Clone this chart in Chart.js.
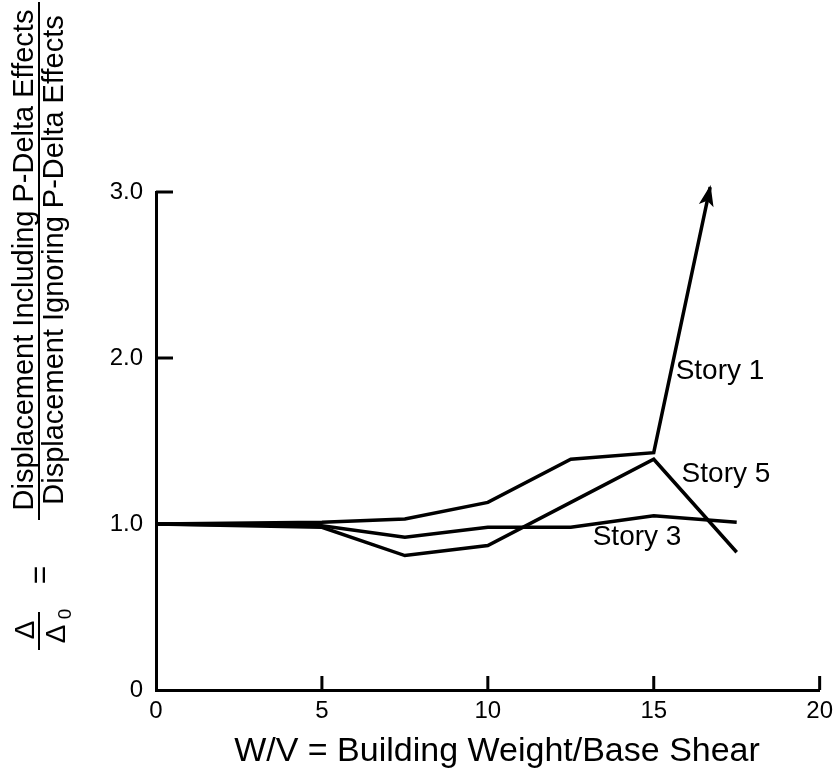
<!DOCTYPE html>
<html>
<head>
<meta charset="utf-8">
<script src="https://cdn.jsdelivr.net/npm/chart.js@4/dist/chart.umd.min.js"></script>
<style>
  html, body { margin: 0; padding: 0; background: #fff; }
  #wrap { width: 840px; height: 783px; }
</style>
</head>
<body>
<div id="wrap"><canvas id="chart" width="840" height="783"></canvas></div>
<script>
( function () {
    'use strict';

    // W/V values and displacement ratios
    var story1X = [ 0, 5, 7.5, 10, 12.5, 15, 16.7 ];
    var story1Y = [ 1.0, 1.01, 1.03, 1.13, 1.39, 1.43, 3.03 ];
    var story3X = [ 0, 5, 7.5, 10, 12.5, 15, 17.5 ];
    var story3Y = [ 1.0, 0.99, 0.92, 0.98, 0.98, 1.05, 1.01 ];
    var story5X = [ 0, 5, 7.5, 10, 12.5, 15, 17.5 ];
    var story5Y = [ 1.0, 0.98, 0.81, 0.87, 1.13, 1.39, 0.83 ];

    var xTicks = [ 0, 5, 10, 15, 20 ];
    var yTicks = [ 0, 1, 2, 3 ];

    var seriesNames = [ 'Story 1', 'Story 3', 'Story 5' ];
    var labelX = [ 15.66, 13.16, 15.84 ];
    var labelY = [ 1.92, 0.92, 1.30 ];

    function pts( xs, ys ) {
        return xs.map( function ( x, i ) { return { x: x, y: ys[ i ] }; } );
    }

    var lineStyle = {
        borderColor:  '#000',
        borderWidth:  3.5,
        pointRadius:  0,
        tension:      0,
        fill:         false,
        clip:         false,
    };

    var titleFont = '"Liberation Sans", Arial, sans-serif';
    var tickFont  = { family: '"Liberation Sans", Arial, sans-serif', size: 24 };

    /* ── inward tick marks, arrow head, labels, y title ─────────────────── */
    var extras = {
        id: 'extras',
        afterDatasetsDraw: function ( chart ) {
            var ctx = chart.ctx;
            var xs = chart.scales.x, ys = chart.scales.y;
            var area = chart.chartArea;

            ctx.save();
            ctx.strokeStyle = '#000';
            ctx.lineWidth = 3;
            yTicks.forEach( function ( v ) {
                if ( v === 0 ) return;
                var py = ys.getPixelForValue( v );
                ctx.beginPath();
                ctx.moveTo( area.left, py );
                ctx.lineTo( area.left + 17, py );
                ctx.stroke();
            } );
            xTicks.forEach( function ( v ) {
                if ( v === 0 ) return;
                var px = xs.getPixelForValue( v );
                ctx.beginPath();
                ctx.moveTo( px, area.bottom );
                ctx.lineTo( px, area.bottom - 14 );
                ctx.stroke();
            } );

            // arrow at the end of Story 1
            var pts1 = chart.getDatasetMeta( 0 ).data;
            var a = pts1[ pts1.length - 2 ], b = pts1[ pts1.length - 1 ];
            var ang = Math.atan2( b.y - a.y, b.x - a.x );
            ctx.translate( b.x, b.y );
            ctx.rotate( ang );
            ctx.fillStyle = '#000';
            ctx.beginPath();
            ctx.moveTo( 2, 0 );
            ctx.lineTo( -19, -7.5 );
            ctx.lineTo( -14, 0 );
            ctx.lineTo( -19, 7.5 );
            ctx.closePath();
            ctx.fill();
            ctx.restore();

            // series labels
            ctx.save();
            ctx.fillStyle = '#000';
            ctx.font = '28px ' + titleFont;
            ctx.textAlign = 'left';
            ctx.textBaseline = 'middle';
            seriesNames.forEach( function ( name, i ) {
                ctx.fillText( name, xs.getPixelForValue( labelX[ i ] ), ys.getPixelForValue( labelY[ i ] ) );
            } );
            ctx.restore();

            // x title, a little right of the plot centre as in the figure
            ctx.save();
            ctx.fillStyle = '#000';
            ctx.font = '34px ' + titleFont;
            ctx.textAlign = 'center';
            ctx.textBaseline = 'middle';
            ctx.fillText( 'W/V = Building Weight/Base Shear', 497, 752 );
            ctx.restore();

            // y title: delta / delta0 = fraction
            ctx.save();
            ctx.fillStyle = '#000';
            ctx.strokeStyle = '#000';
            ctx.rotate( -Math.PI / 2 );
            ctx.font = '29px ' + titleFont;
            ctx.textAlign = 'center';
            ctx.textBaseline = 'alphabetic';
            var cy = -260;
            ctx.fillText( 'Displacement Including P-Delta Effects', cy, 33 );
            ctx.fillText( 'Displacement Ignoring P-Delta Effects', cy, 63 );
            ctx.lineWidth = 2;
            ctx.beginPath();
            ctx.moveTo( -520, 39 );
            ctx.lineTo( -2, 39 );
            ctx.stroke();
            ctx.font = '32px ' + titleFont;
            ctx.fillText( '=', -575, 50 );
            ctx.font = '28px ' + titleFont;
            ctx.fillText( '\u0394', -630, 34 );
            ctx.fillText( '\u0394', -634, 65 );
            ctx.font = '19px ' + titleFont;
            ctx.fillText( '0', -614, 71 );
            ctx.beginPath();
            ctx.moveTo( -650, 39 );
            ctx.lineTo( -612, 39 );
            ctx.stroke();
            ctx.restore();
        },
    };

    new Chart( document.getElementById( 'chart' ), {
        type: 'line',
        data: {
            datasets: [
                Object.assign( { label: 'Story 1', data: pts( story1X, story1Y ) }, lineStyle ),
                Object.assign( { label: 'Story 3', data: pts( story3X, story3Y ) }, lineStyle ),
                Object.assign( { label: 'Story 5', data: pts( story5X, story5Y ) }, lineStyle ),
            ],
        },
        options: {
            responsive: false,
            animation:  false,
            events:     [],
            layout: { padding: { top: 192, right: 20, left: 0, bottom: 0 } },
            plugins: {
                legend:  { display: false },
                tooltip: { enabled: false },
            },
            scales: {
                x: {
                    type: 'linear',
                    min: 0,
                    max: 20,
                    afterBuildTicks: function ( s ) { s.ticks = xTicks.map( function ( v ) { return { value: v }; } ); },
                    afterFit: function ( s ) { s.height = 93; },
                    grid:   { display: false, drawTicks: false },
                    border: { display: true, color: '#000', width: 3 },
                    ticks:  { color: '#000', font: tickFont, padding: 7, maxRotation: 0 },
                },
                y: {
                    type: 'linear',
                    min: 0,
                    max: 3,
                    afterBuildTicks: function ( s ) { s.ticks = yTicks.map( function ( v ) { return { value: v }; } ); },
                    afterFit: function ( s ) { s.width = 156; },
                    grid:   { display: false, drawTicks: false },
                    border: { display: true, color: '#000', width: 3 },
                    ticks: {
                        color: '#000',
                        font: tickFont,
                        padding: 13,
                        callback: function ( v ) { return v === 0 ? '0' : v.toFixed( 1 ); },
                    },
                },
            },
        },
        plugins: [ extras ],
    } );
} )();
</script>
</body>
</html>
